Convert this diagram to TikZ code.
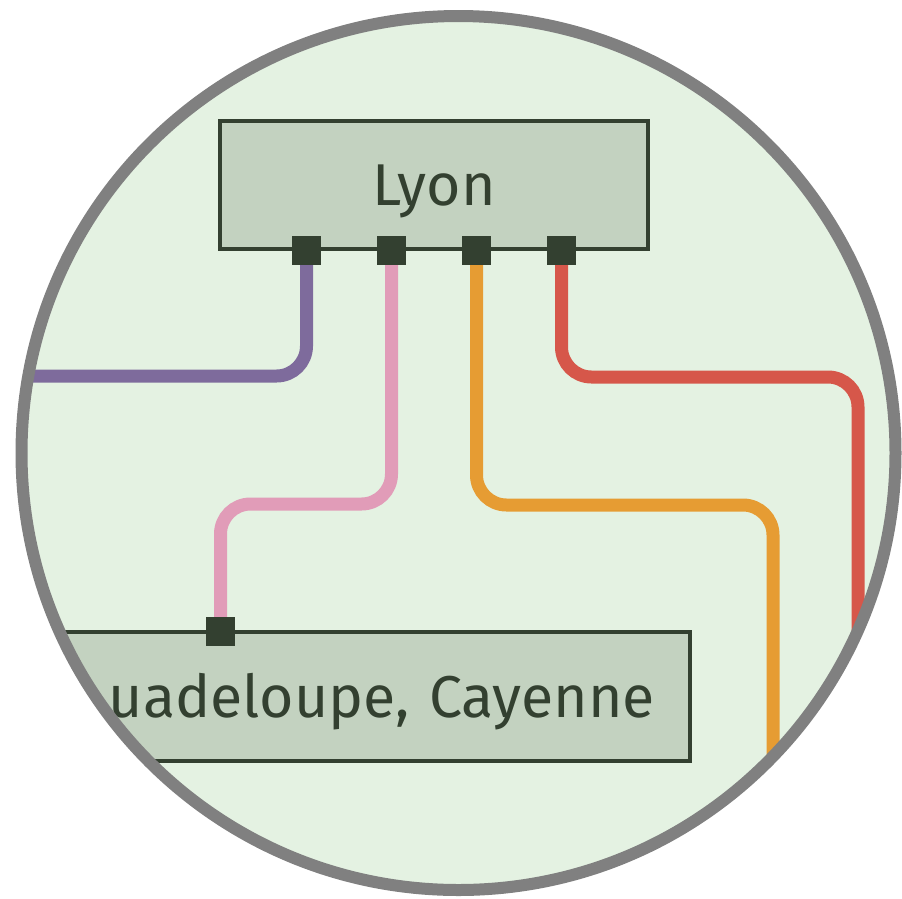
\documentclass[tikz,border=0pt]{standalone}
\usepackage{fontspec}
\setmainfont{Fira Sans}
\usetikzlibrary{calc}

\definecolor{disc}{HTML}{E4F2E2}
\definecolor{rim}{HTML}{808080}
\definecolor{boxfill}{HTML}{C3D2C0}
\definecolor{ink}{HTML}{334030}
\definecolor{lpurple}{HTML}{7E6B9C}
\definecolor{lpink}{HTML}{E19CB8}
\definecolor{lorange}{HTML}{E69C33}
\definecolor{lred}{HTML}{D6574A}

\begin{document}
\begin{tikzpicture}[
  x=1pt, y=-1pt,
  station/.style={draw=ink,fill=boxfill,line width=3.5pt,inner sep=0pt,
    text=ink,text height=41pt,text depth=0pt,font=\fontsize{59}{60}\selectfont},
  port/.style={fill=ink,minimum size=29pt,inner sep=0pt},
  track/.style={line width=13pt,rounded corners=30pt}
]
  \useasboundingbox (0,0) rectangle (902,898);

  \begin{scope}
    \clip (458.5,453) circle (437);
    \fill[disc] (0,0) rectangle (902,898);

    \node[station,minimum width=428pt,minimum height=128pt] (lyon) at (434,185) {Lyon};
    \node[station,minimum width=642pt,minimum height=129pt,
      text width=572pt,align=right] (guad) at (369,696.5) {uadeloupe, Cayenne};

    \coordinate (wpurple) at (0,376);
    \coordinate (mpink) at (300,504);
    \coordinate (morange) at (600,505);
    \coordinate (eorange) at (773,898);
    \coordinate (mred) at (700,377);
    \coordinate (ered) at (858,898);

    \coordinate (p1) at ($(lyon.south)+(-127.5,0)$);
    \coordinate (p2) at ($(lyon.south)+(-42.5,0)$);
    \coordinate (p3) at ($(lyon.south)+(42.5,0)$);
    \coordinate (p4) at ($(lyon.south)+(127.5,0)$);
    \coordinate (g1) at ($(guad.north)+(-148.5,1)$);

    \draw[track,lpurple] (p1) |- (wpurple);
    \draw[track,lpink] (p2) |- (mpink) -| (g1);
    \draw[track,lorange] (p3) |- (morange) -| (eorange);
    \draw[track,lred] (p4) |- (mred) -| (ered);

    \foreach \p in {p1,p2,p3,p4,g1}
      \node[port] at (\p) {};
  \end{scope}

  \draw[rim,line width=12pt] (458.5,453) circle (437);
\end{tikzpicture}
\end{document}
